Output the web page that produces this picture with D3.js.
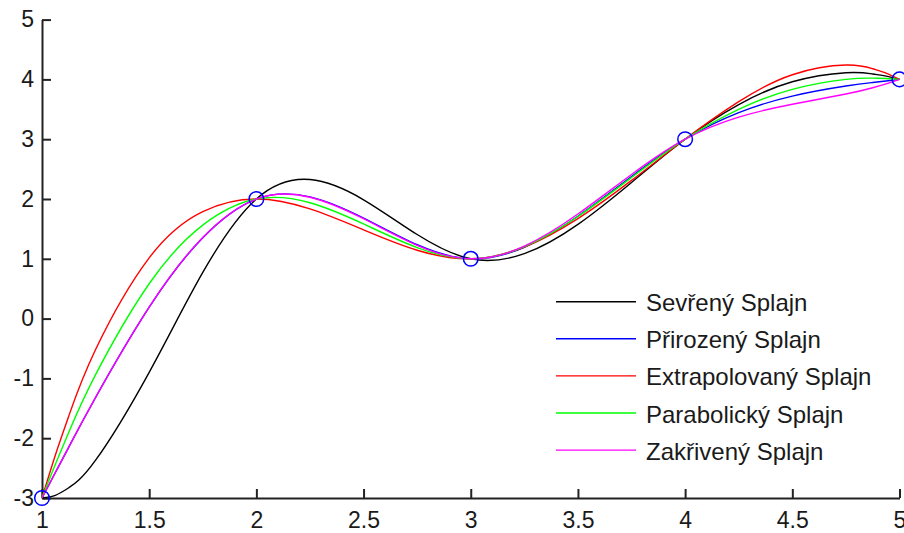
<!DOCTYPE html>
<html><head><meta charset="utf-8">
<script src="https://cdn.jsdelivr.net/npm/d3@7"></script>
<style>
html,body{margin:0;padding:0;background:#fff;}
svg{display:block;}
text{font-family:"Liberation Sans",Arial,sans-serif;fill:#1a1a1a;}
</style></head>
<body>
<svg id="chart" width="904" height="533"></svg>
<script>
// data points (knots)
const knotX = [1, 2, 3, 4, 5];
const knotY = [-3, 2, 1, 3, 4];

// sample abscissae
const sampleX = [1, 1.0625, 1.125, 1.25, 1.5, 1.75, 2, 2.25, 2.5, 2.75, 3, 3.25, 3.5, 3.75, 4, 4.25, 4.5, 4.75, 4.875, 4.9375, 5];

// curve values
const sevreny      = [-3, -2.955, -2.829, -2.368, -0.898, 0.772, 2, 2.325, 1.987, 1.406, 1, 1.086, 1.576, 2.277, 3, 3.580, 3.960, 4.111, 4.090, 4.054, 4];
const prirozeny    = [-3, -2.573, -2.149, -1.319, 0.190, 1.353, 2, 2.035, 1.681, 1.235, 1, 1.193, 1.712, 2.375, 3, 3.444, 3.721, 3.889, 3.948, 3.974, 4];
const extrapolovany= [-3, -2.280, -1.628, -0.517, 1.016, 1.790, 2, 1.834, 1.484, 1.143, 1, 1.197, 1.672, 2.311, 3, 3.627, 4.078, 4.240, 4.178, 4.104, 4];
const parabolicky  = [-3, -2.434, -1.901, -0.938, 0.583, 1.563, 2, 1.938, 1.583, 1.188, 1, 1.203, 1.708, 2.359, 3, 3.500, 3.833, 4.000, 4.021, 4.016, 4];
const zakriveny    = [-3, -2.572, -2.148, -1.317, 0.193, 1.356, 2, 2.030, 1.671, 1.226, 1, 1.212, 1.749, 2.410, 3, 3.370, 3.584, 3.756, 3.861, 3.926, 4];

const seriesNames = ["Sevřený Splajn", "Přirozený Splajn", "Extrapolovaný Splajn", "Parabolický Splajn", "Zakřivený Splajn"];
const seriesValues = [sevreny, prirozeny, extrapolovany, parabolicky, zakriveny];
const seriesColors = ["#000000", "#0000ff", "#ff0000", "#00ff00", "#ff00ff"];

const xTicks = [1, 1.5, 2, 2.5, 3, 3.5, 4, 4.5, 5];
const yTicks = [-3, -2, -1, 0, 1, 2, 3, 4, 5];

const svg = d3.select("#chart");
const x = d3.scaleLinear().domain([1, 5]).range([42, 899.5]);
const y = d3.scaleLinear().domain([-3, 5]).range([498, 19.6]);

// axes
const fs = 23;
const gx = svg.append("g").attr("transform", `translate(0,${y(-3)})`)
  .call(d3.axisBottom(x).tickValues(xTicks).tickFormat(d => String(d)).tickSize(-9).tickSizeOuter(0).tickPadding(13.5));
const gy = svg.append("g").attr("transform", `translate(${x(1)},0)`)
  .call(d3.axisLeft(y).tickValues(yTicks).tickFormat(d => String(d)).tickSize(-9).tickSizeOuter(0).tickPadding(8));
[gx, gy].forEach(g => {
  g.select(".domain").attr("stroke", "#222").attr("stroke-width", 2);
  g.selectAll(".tick line").attr("stroke", "#222").attr("stroke-width", 2);
  g.selectAll(".tick text").attr("font-size", fs).attr("fill", "#1a1a1a")
    .style("font-family", '"Liberation Sans", Arial, sans-serif');
});

// curves
const line = d3.line().x((d, i) => x(sampleX[i])).y(d => y(d)).curve(d3.curveNatural);
seriesValues.forEach((vals, k) => {
  svg.append("path").datum(vals).attr("d", line)
    .attr("fill", "none").attr("stroke", seriesColors[k]).attr("stroke-width", 1.4);
});

// knot markers
svg.append("g").selectAll("circle").data(knotX).join("circle")
  .attr("cx", (d) => x(d)).attr("cy", (d, i) => y(knotY[i])).attr("r", 7.3)
  .attr("fill", "none").attr("stroke", "#0000ff").attr("stroke-width", 1.5);

// legend
const legY0 = 301.7, legDy = 37.1;
const leg = svg.append("g");
seriesNames.forEach((name, k) => {
  const yy = legY0 + k * legDy;
  leg.append("line").attr("x1", 556).attr("x2", 636).attr("y1", yy).attr("y2", yy)
    .attr("stroke", seriesColors[k]).attr("stroke-width", 1.4);
  leg.append("text").attr("x", 646).attr("y", yy + 9.5).attr("font-size", 24).text(name);
});
</script>
</body></html>
